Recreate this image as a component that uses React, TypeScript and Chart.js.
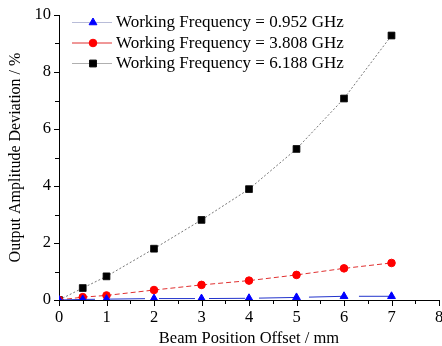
import React, { useEffect, useRef } from "react";
import { Chart, registerables } from "chart.js";
Chart.register(...registerables);

const xValues = [0, 0.5, 1, 2, 3, 4, 5, 6, 7];
const f0952 = [0, 0.02, 0.03, 0.05, 0.05, 0.06, 0.09, 0.13, 0.13];
const f3808 = [0, 0.1, 0.16, 0.35, 0.53, 0.68, 0.88, 1.11, 1.3];
const f6188 = [0, 0.42, 0.83, 1.8, 2.81, 3.89, 5.3, 7.07, 9.28];
const seriesLabels = [
  "Working Frequency = 0.952 GHz",
  "Working Frequency = 3.808 GHz",
  "Working Frequency = 6.188 GHz",
];
const xTitle = "Beam Position Offset / mm";
const yTitle = "Output Amplitude Deviation / %";

const FONT = "'Liberation Serif', 'Times New Roman', serif";

function drawMarker(ctx: CanvasRenderingContext2D, ds: any, x: number, y: number) {
  ctx.save();
  ctx.fillStyle = ds.pointBackgroundColor;
  ctx.strokeStyle = ds.pointBorderColor;
  ctx.lineWidth = 1;
  const r = ds.pointRadius;
  ctx.beginPath();
  if (ds.pointStyle === "rect") {
    const s = r * Math.SQRT1_2;
    ctx.rect(x - s, y - s, 2 * s, 2 * s);
  } else if (ds.pointStyle === "triangle") {
    ctx.moveTo(x, y - r);
    ctx.lineTo(x + r * 0.866, y + r * 0.5);
    ctx.lineTo(x - r * 0.866, y + r * 0.5);
    ctx.closePath();
  } else {
    ctx.arc(x, y, r, 0, Math.PI * 2);
  }
  ctx.fill();
  ctx.stroke();
  ctx.restore();
}

const legendLineColors = ["#b8bcd8", "#e03030", "#b0b0b0"];

const tickPlugin = {
  id: "minorTicks",
  afterDraw(chart: any) {
    const ctx = chart.ctx;
    const xs = chart.scales.x;
    const ys = chart.scales.y;
    const bottom = chart.chartArea.bottom;
    const left = chart.chartArea.left;
    ctx.save();
    ctx.strokeStyle = "#000";
    ctx.lineWidth = 1;
    for (let v = 0; v <= 8.001; v += 0.5) {
      const px = Math.round(xs.getPixelForValue(v)) + 0.5;
      const major = Math.abs(v - Math.round(v)) < 1e-6;
      ctx.beginPath();
      ctx.moveTo(px, bottom);
      ctx.lineTo(px, bottom + (major ? 6 : 4));
      ctx.stroke();
    }
    for (let v = 0; v <= 10.001; v += 1) {
      const py = Math.round(ys.getPixelForValue(v)) + 0.5;
      const major = v % 2 === 0;
      ctx.beginPath();
      ctx.moveTo(left, py);
      ctx.lineTo(left - (major ? 5 : 4), py);
      ctx.stroke();
    }
    const rows = [22.5, 43, 63.5];
    chart.data.datasets.forEach((ds: any, i: number) => {
      const y = rows[i];
      ctx.save();
      ctx.strokeStyle = legendLineColors[i];
      ctx.lineWidth = 1;
      ctx.setLineDash([]);
      ctx.beginPath();
      ctx.moveTo(72, y);
      ctx.lineTo(112, y);
      ctx.stroke();
      ctx.restore();
      drawMarker(ctx, ds, 93, y);
      ctx.fillStyle = "#000";
      ctx.font = `17px ${FONT}`;
      ctx.textBaseline = "middle";
      ctx.textAlign = "left";
      ctx.fillText(seriesLabels[i], 116, y + 0.5);
    });
    ctx.restore();
  },
};

export default function App() {
  const ref = useRef<HTMLCanvasElement>(null);
  useEffect(() => {
    if (!ref.current) return;
    const mk = (vals: number[]) => xValues.map((x, i) => ({ x, y: vals[i] }));
    const chart = new Chart(ref.current, {
      type: "line",
      data: {
        datasets: [
          {
            label: seriesLabels[0],
            data: mk(f0952),
            borderColor: "#2233cc",
            borderWidth: 1,
            borderDash: [36, 14],
            pointStyle: "triangle",
            pointRadius: 4.5,
            pointBackgroundColor: "#0000ff",
            pointBorderColor: "#0000ff",
          },
          {
            label: seriesLabels[1],
            data: mk(f3808),
            borderColor: "#e03030",
            borderWidth: 1,
            borderDash: [5, 3],
            pointStyle: "circle",
            pointRadius: 3.8,
            pointBackgroundColor: "#ff0000",
            pointBorderColor: "#ff0000",
          },
          {
            label: seriesLabels[2],
            data: mk(f6188),
            borderColor: "#555555",
            borderWidth: 0.8,
            borderDash: [2, 2],
            pointStyle: "rect",
            pointRadius: 4.8,
            pointBackgroundColor: "#000000",
            pointBorderColor: "#000000",
          },
        ],
      },
      options: {
        responsive: false,
        animation: false,
        layout: { padding: { top: 15, right: 13, left: 0, bottom: 0 } },
        plugins: { legend: { display: false }, tooltip: { enabled: false } },
        scales: {
          x: {
            type: "linear",
            min: 0,
            max: 8,
            afterFit: (s: any) => { s.height = 46; },
            grid: { display: false, drawTicks: true, tickLength: 3 },
            border: { display: true, color: "#000", width: 1 },
            ticks: {
              stepSize: 1,
              color: "#000",
              padding: 5,
              maxRotation: 0,
              font: { family: FONT, size: 16.5 },
            },
            title: {
              display: true,
              text: xTitle,
              color: "#000",
              padding: { top: 0, bottom: -1 },
              font: { family: FONT, size: 16.5, lineHeight: 1 },
            },
          },
          y: {
            min: 0,
            max: 10,
            afterFit: (s: any) => { s.width = 59; },
            grid: { display: false, drawTicks: true, tickLength: 5 },
            border: { display: true, color: "#000", width: 1 },
            ticks: {
              stepSize: 2,
              color: "#000",
              padding: 3,
              font: { family: FONT, size: 16.5 },
            },
            title: {
              display: true,
              text: yTitle,
              color: "#000",
              padding: { top: 6, bottom: 0 },
              font: { family: FONT, size: 16 },
            },
          },
        },
      },
      plugins: [tickPlugin],
    });
    return () => chart.destroy();
  }, []);
  return (
    <div style={{ position: "fixed", left: 0, top: 0, width: 442, height: 346, overflow: "hidden", background: "#fff" }}>
      <canvas ref={ref} width={452} height={346} style={{ width: 452, height: 346, display: "block" }} />
    </div>
  );
}
